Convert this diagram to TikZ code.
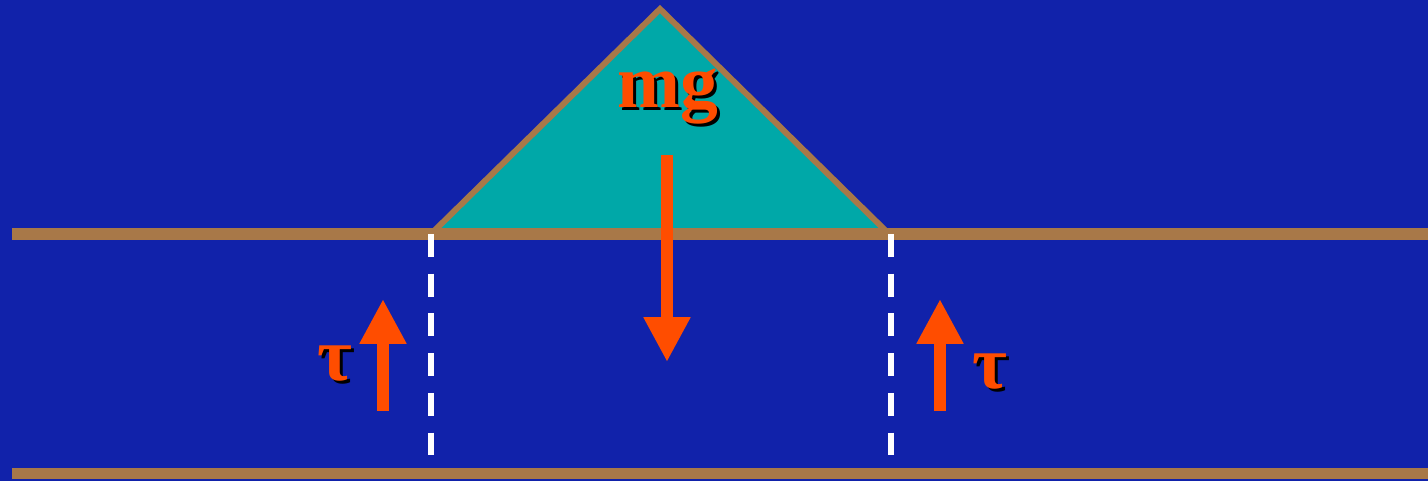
\documentclass[tikz,border=0pt]{standalone}
\usepackage{fontspec}
\setmainfont{Liberation Serif}
\usetikzlibrary{arrows.meta}
\definecolor{bgblue}{RGB}{17,34,170}
\definecolor{wedgeteal}{RGB}{0,168,168}
\definecolor{rimbrown}{RGB}{168,120,72}
\definecolor{forceorange}{RGB}{255,77,0}
\begin{document}
\begin{tikzpicture}[x=0.02cm, y=-0.02cm, line join=miter,
  force/.style={draw=forceorange, line width=6.8pt,
    -{Triangle[width=25pt, length=25.5pt]}, fill=forceorange},
  lbl/.style={text=forceorange, font=\bfseries\fontsize{43}{43}\selectfont, anchor=base, inner sep=0pt},
  shd/.style={lbl, text=black}]

% Parameters
\def\ytop{234}    % upper surface
\def\ybot{473.5}  % lower surface
\def\xl{431}      % left corner of the wedge
\def\xr{889}      % right corner of the wedge

% --- Background ---
\useasboundingbox (0,0) rectangle (1428,481);
\fill[bgblue] (0,0) rectangle (1428,481);

% --- Wedge ---
\filldraw[fill=wedgeteal, draw=rimbrown, line width=3.4pt]
  (\xl,\ytop) -- (660,9) -- (\xr,\ytop) -- cycle;

% --- Surfaces ---
\draw[rimbrown, line width=6.8pt] (12,\ytop) -- (1428,\ytop);
\draw[rimbrown, line width=6.4pt] (12,\ybot) -- (1428,\ybot);

% --- Dashed cuts below the corners ---
\foreach \x in {\xl,891}{
  \draw[white, line width=3.4pt, dash pattern=on 13pt off 9.6pt] (\x,\ytop) -- (\x,458);
}

% --- Force arrows ---
\coordinate (wTail) at (667,155);
\coordinate (wTip)  at (667,362);
\coordinate (tLTail) at (383,411);
\coordinate (tLTip)  at (383,299);
\coordinate (tRTail) at (940,411);
\coordinate (tRTip)  at (940,299);
\draw[force] (wTail) -- (wTip);
\draw[force] (tLTail) -- (tLTip);
\draw[force] (tRTail) -- (tRTip);

% --- Labels (shadow first) ---
\node[shd] at (671,110) {mg};
\node[shd] at (338,383) {τ};
\node[shd] at (993,391) {τ};
\node[lbl] (mg)   at (668,107) {mg};
\node[lbl] (tauL) at (335,380) {τ};
\node[lbl] (tauR) at (990,388) {τ};

\end{tikzpicture}
\end{document}
